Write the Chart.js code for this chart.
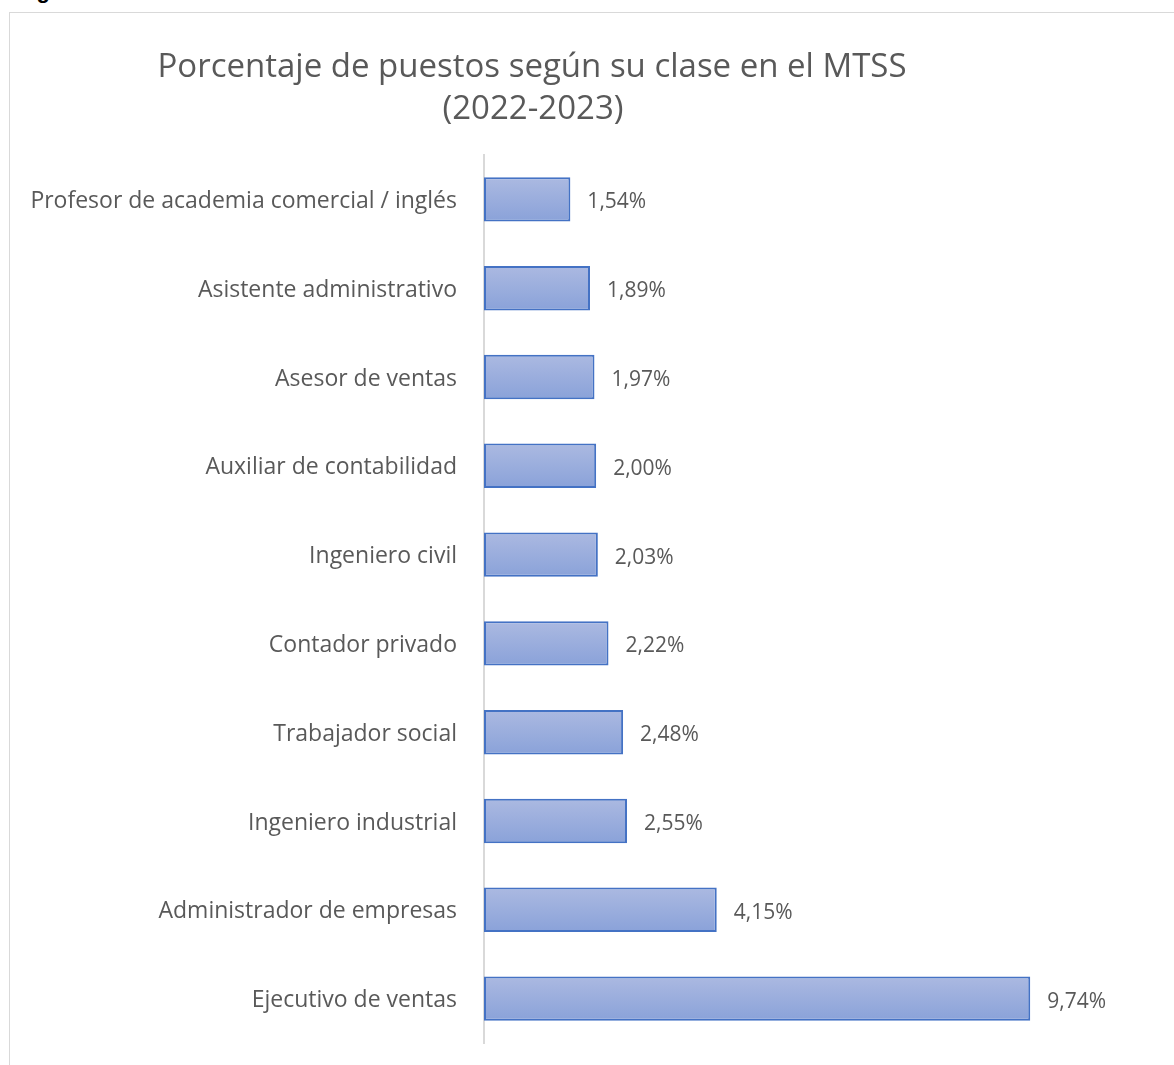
<!DOCTYPE html>
<html>
<head>
<meta charset="utf-8">
<script src="https://cdn.jsdelivr.net/npm/chart.js@4.4.0/dist/chart.umd.min.js"></script>
<style>
  html, body { margin:0; padding:0; width:1174px; height:1065px; overflow:hidden; background:#fff; }
  #fig { position:absolute; left:17px; top:-20px; font-family:"Liberation Sans", Arial, sans-serif; font-weight:bold; font-size:22px; color:#000; margin:0; line-height:22px; }
  #frame { position:absolute; left:9px; top:12px; width:1300px; height:1200px; border:1px solid #d9d9d9; box-sizing:border-box; }
  #c { position:absolute; left:0; top:0; }
</style>
</head>
<body>
<div id="fig">Figura</div>
<div id="frame"></div>
<canvas id="c" width="1174" height="1065"></canvas>
<script>
const titleLines = ["Porcentaje de puestos según su clase en el MTSS", "(2022-2023)"];
const categories = [
  "Profesor de academia comercial / inglés",
  "Asistente administrativo",
  "Asesor de ventas",
  "Auxiliar de contabilidad",
  "Ingeniero civil",
  "Contador privado",
  "Trabajador social",
  "Ingeniero industrial",
  "Administrador de empresas",
  "Ejecutivo de ventas"
];
const values = [1.54, 1.89, 1.97, 2.00, 2.03, 2.22, 2.48, 2.55, 4.15, 9.74];
const valueLabels = ["1,54%", "1,89%", "1,97%", "2,00%", "2,03%", "2,22%", "2,48%", "2,55%", "4,15%", "9,74%"];

const FONT = "'Open Sans', 'DejaVu Sans', sans-serif";
const GREY = "#595959";

const titlePlugin = {
  id: 'customTitle',
  afterDraw(chart) {
    const ctx = chart.ctx;
    ctx.save();
    ctx.fillStyle = GREY;
    ctx.font = "33px " + FONT;
    ctx.textAlign = "center";
    ctx.textBaseline = "middle";
    ctx.fillText(titleLines[0], 532, 68);
    ctx.fillText(titleLines[1], 533, 110);
    ctx.restore();
  }
};

const valueLabelPlugin = {
  id: 'valueLabels',
  afterDatasetsDraw(chart) {
    const ctx = chart.ctx;
    const meta = chart.getDatasetMeta(0);
    ctx.save();
    ctx.fillStyle = GREY;
    ctx.font = "21px " + FONT;
    ctx.textAlign = "left";
    ctx.textBaseline = "middle";
    meta.data.forEach((bar, i) => {
      ctx.fillText(valueLabels[i], bar.x + 17, bar.y + 3);
    });
    ctx.restore();
  }
};

new Chart(document.getElementById('c'), {
  type: 'bar',
  data: {
    labels: categories,
    datasets: [{
      data: values,
      backgroundColor: (c) => {
        const chart = c.chart;
        const ys = chart.scales && chart.scales.y;
        if (!ys || !chart.chartArea || c.dataIndex === undefined) return '#9aaedd';
        const yc = ys.getPixelForValue(c.dataIndex);
        const g = chart.ctx.createLinearGradient(0, yc - 22, 0, yc + 22);
        g.addColorStop(0, '#abb9e1');
        g.addColorStop(1, '#8aa2d9');
        return g;
      },
      borderColor: '#4472c4',
      borderWidth: 2,
      borderSkipped: false,
      barPercentage: 0.5,
      categoryPercentage: 1.0
    }]
  },
  options: {
    indexAxis: 'y',
    responsive: false,
    animation: false,
    devicePixelRatio: 1,
    layout: { padding: { top: 155, bottom: 22, left: 0, right: 17 } },
    plugins: {
      legend: { display: false },
      title: { display: false },
      tooltip: { enabled: false }
    },
    scales: {
      x: {
        display: false,
        min: 0,
        max: 12
      },
      y: {
        afterFit(s) { s.width = 484; s.paddingTop = 0; s.paddingBottom = 0; },
        grid: { display: false, drawTicks: false },
        border: { display: true, color: '#d9d9d9', width: 2 },
        ticks: {
          color: GREY,
          padding: 27,
          labelOffset: 2,
          font: { family: FONT, size: 23 }
        }
      }
    }
  },
  plugins: [titlePlugin, valueLabelPlugin]
});
</script>
</body>
</html>
